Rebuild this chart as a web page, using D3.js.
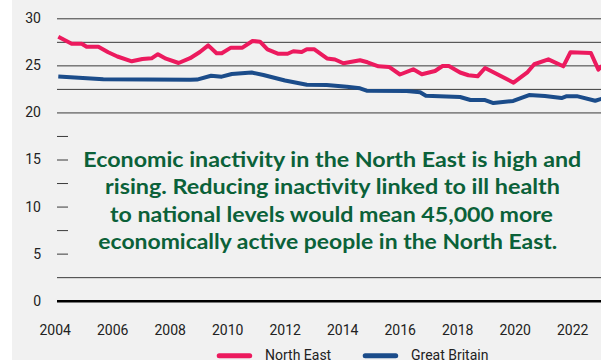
<!DOCTYPE html>
<html>
<head>
<meta charset="utf-8">
<script src="https://cdn.jsdelivr.net/npm/d3@7"></script>
<style>
  html, body { margin: 0; padding: 0; background: #ffffff; }
  svg { display: block; }
</style>
</head>
<body>
<svg id="chart" width="601" height="360"></svg>
<script>
// ---- data ----
const neYears = [2004.125, 2004.59, 2004.94, 2005.11, 2005.52, 2005.86, 2006.18, 2006.68, 2007.05, 2007.37,
  2007.59, 2007.87, 2008.31, 2008.71, 2009.05, 2009.34, 2009.63, 2009.81, 2010.13, 2010.53,
  2010.88, 2011.14, 2011.40, 2011.78, 2012.10, 2012.30, 2012.59, 2012.77, 2013.02, 2013.47,
  2013.75, 2014.04, 2014.62, 2014.88, 2015.26, 2015.63, 2016.01, 2016.47, 2016.77, 2017.23,
  2017.49, 2017.71, 2018.10, 2018.39, 2018.71, 2018.97, 2019.96, 2020.45, 2020.68, 2021.17,
  2021.69, 2021.94, 2022.65, 2022.91, 2023.14];
const neValues = [28.05, 27.30, 27.30, 26.98, 26.98, 26.39, 25.94, 25.43, 25.68, 25.75,
  26.19, 25.71, 25.25, 25.76, 26.42, 27.12, 26.28, 26.28, 26.88, 26.88,
  27.59, 27.52, 26.69, 26.23, 26.23, 26.50, 26.42, 26.72, 26.72, 25.73,
  25.62, 25.22, 25.54, 25.33, 24.90, 24.83, 24.03, 24.58, 24.06, 24.40,
  24.93, 24.93, 24.24, 23.95, 23.84, 24.72, 23.16, 24.29, 25.12, 25.64,
  24.90, 26.39, 26.31, 24.55, 25.25];
const gbYears = [2004.125, 2005.69, 2008.72, 2008.95, 2009.44, 2009.81, 2010.16, 2010.85, 2011.26, 2012.01,
  2012.77, 2013.46, 2014.16, 2014.62, 2014.85, 2016.24, 2016.71, 2016.91, 2018.10, 2018.46,
  2018.97, 2019.26, 2019.95, 2020.50, 2021.05, 2021.63, 2021.81, 2022.16, 2022.80, 2023.18];
const gbValues = [23.82, 23.53, 23.47, 23.49, 23.90, 23.80, 24.08, 24.24, 23.98, 23.39,
  22.95, 22.92, 22.73, 22.56, 22.31, 22.28, 22.15, 21.78, 21.64, 21.32,
  21.32, 21.00, 21.22, 21.85, 21.75, 21.53, 21.73, 21.73, 21.24, 21.59];
const seriesNames = ["North East", "Great Britain"];
const xTickValues = [2004, 2006, 2008, 2010, 2012, 2014, 2016, 2018, 2020, 2022];
const yTickValues = [0, 2.5, 5, 7.5, 10, 12.5, 15, 17.5, 20, 22.5, 25, 27.5, 30];
const yLabelValues = [0, 5, 10, 15, 20, 25, 30];
const noteLines = [
  "Economic inactivity in the North East is high and",
  "rising. Reducing inactivity linked to ill health",
  "to national levels would mean 45,000 more",
  "economically active people in the North East."
];

// ---- layout ----
const W = 601, H = 360;
const colors = ["#ec1a5e", "#1b4c8a"];
const bg = "#f1f1f1";
const svg = d3.select("#chart");

svg.append("rect").attr("x", 12).attr("y", 0).attr("width", W - 12).attr("height", H).attr("fill", bg);

const x = d3.scaleLinear().domain([2004, 2023]).range([54.7, 54.7 + 19 * 28.75]);
const y = d3.scaleLinear().domain([0, 30]).range([300.7, 18.3]);
const gridLeft = 57;

// gridlines + y labels via axis
const yAxis = d3.axisLeft(y)
  .tickValues(yTickValues)
  .tickSize(W - gridLeft)
  .tickPadding(16)
  .tickFormat(d => yLabelValues.includes(d) ? d3.format("d")(d) : "");
const gy = svg.append("g").attr("transform", `translate(${W},0)`).call(yAxis);
gy.select(".domain").remove();
gy.selectAll(".tick line").attr("stroke", "#3a3a3a").attr("stroke-width", 1);
gy.selectAll(".tick").filter(d => d === 0).select("line").attr("stroke", "#000").attr("stroke-width", 2.6);
gy.selectAll(".tick text").attr("font-family", "Roboto, 'Liberation Sans', Arial, sans-serif")
  .attr("font-size", 14).attr("fill", "#222");

// x axis labels
const xAxis = d3.axisBottom(x).tickValues(xTickValues).tickSize(0).tickPadding(24).tickFormat(d3.format("d"));
const gx = svg.append("g").attr("transform", `translate(0,${y(0)})`).call(xAxis);
gx.select(".domain").remove();
gx.selectAll(".tick text").attr("font-family", "Roboto, 'Liberation Sans', Arial, sans-serif")
  .attr("font-size", 14).attr("fill", "#222");

// lines
const line = d3.line().x(d => x(d[0])).y(d => y(d[1])).curve(d3.curveLinear);
const neData = neYears.map((t, i) => [t, neValues[i]]);
const gbData = gbYears.map((t, i) => [t, gbValues[i]]);
[[gbData, colors[1]], [neData, colors[0]]].forEach(([data, c]) => {
  svg.append("path").datum(data).attr("d", line)
    .attr("fill", "none").attr("stroke", c).attr("stroke-width", 4)
    .attr("stroke-linejoin", "round").attr("stroke-linecap", "butt");
});

// annotation box
svg.append("rect").attr("x", 68).attr("y", 125).attr("width", W - 68).attr("height", 140).attr("fill", bg);
const noteX = [83.3, 105, 110, 98.3];
const noteW = [498, 455, 443, 459];
const noteY = [166.6, 194.3, 221.8, 249.3];
svg.append("g").selectAll("text").data(noteLines).join("text")
  .attr("x", (d, i) => noteX[i]).attr("y", (d, i) => noteY[i])
  .attr("textLength", (d, i) => noteW[i]).attr("lengthAdjust", "spacingAndGlyphs")
  .attr("font-family", "Lato, 'Open Sans', sans-serif").attr("font-weight", 700)
  .attr("font-size", 20.5).attr("fill", "#0b6139")
  .text(d => d);

// legend
const legX = [216.7, 362.7];
const legend = svg.append("g").selectAll("g").data(seriesNames).join("g");
legend.append("line")
  .attr("x1", (d, i) => legX[i] + 2.5).attr("x2", (d, i) => legX[i] + 33)
  .attr("y1", 355.8).attr("y2", 355.8)
  .attr("stroke", (d, i) => colors[i]).attr("stroke-width", 5).attr("stroke-linecap", "round");
legend.append("text")
  .attr("x", (d, i) => legX[i] + 48.3).attr("y", 359.8)
  .attr("font-family", "Roboto, 'Liberation Sans', Arial, sans-serif")
  .attr("font-size", 14).attr("fill", "#222")
  .text(d => d);
</script>
</body>
</html>
